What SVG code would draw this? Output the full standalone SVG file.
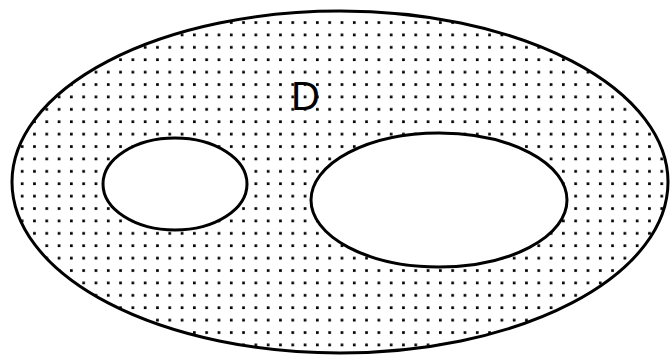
<svg xmlns="http://www.w3.org/2000/svg" width="671" height="359" viewBox="0 0 671 359">
  <defs>
    <pattern id="dots" patternUnits="userSpaceOnUse" x="0" y="0" width="12.3" height="12.4">
      <rect x="8.5" y="8.8" width="2.7" height="2.7" fill="#000"/>
    </pattern>
  </defs>
  <style>
    .outline { stroke: #000; stroke-width: 3; }
    .hole { fill: #fff; }
    .label { font-family: "Liberation Sans", Arial, sans-serif; font-size: 40px; fill: #000; }
  </style>
  <rect width="671" height="359" fill="#fff"/>
  <g id="region-D">
    <ellipse cx="340" cy="182" rx="328" ry="171" fill="url(#dots)" class="outline"/>
    <text class="label" x="291" y="110">D</text>
  </g>
  <g id="hole-left">
    <ellipse cx="175" cy="184" rx="72" ry="46" class="hole outline"/>
  </g>
  <g id="hole-right">
    <ellipse cx="439" cy="200" rx="128" ry="67" class="hole outline"/>
  </g>
  <g id="connectors"></g>
</svg>
